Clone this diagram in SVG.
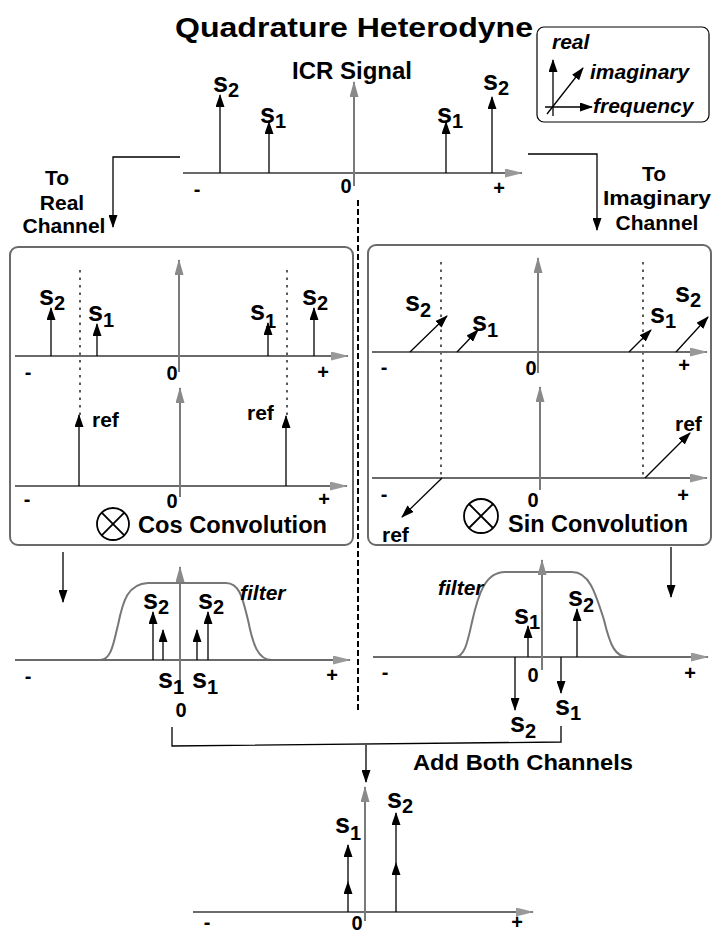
<svg xmlns="http://www.w3.org/2000/svg" width="713" height="934" viewBox="0 0 713 934">
<style>
.t{font-family:"Liberation Sans",Arial,sans-serif;font-weight:bold;fill:#000}
.s{font-size:27px}
.sub{font-size:20px}
.n{font-size:20px;text-anchor:middle}
.lb{font-size:21px}
.it{font-style:italic;font-size:21px}
.ax{stroke:#6a6a6a;stroke-width:1.8;fill:none;marker-end:url(#mAx)}
.c0{stroke:#7a7a7a;stroke-width:2;fill:none;marker-end:url(#mG)}
.sig{stroke:#000;stroke-width:1.3;fill:none;marker-end:url(#mB)}
.dbl{stroke:#000;stroke-width:1.3;fill:none;marker-mid:url(#mB);marker-end:url(#mB)}
.dot{stroke:#333;stroke-width:1.6;stroke-dasharray:2.5 5;fill:none}
.box{fill:none;stroke:#6a6a6a;stroke-width:2}
.flt{fill:none;stroke:#777;stroke-width:2}
.con{fill:none;stroke:#000;stroke-width:1.3}
</style>
<defs>
<marker id="mB" viewBox="0 0 13 9" refX="12" refY="4.5" markerWidth="13" markerHeight="9" orient="auto" markerUnits="userSpaceOnUse"><path d="M0,0 L13,4.5 L0,9 Z" fill="#000"/></marker>
<marker id="mG" viewBox="0 0 16 9" refX="15" refY="4.5" markerWidth="16" markerHeight="9" orient="auto" markerUnits="userSpaceOnUse"><path d="M0,0 L16,4.5 L0,9 Z" fill="#8a8a8a"/></marker>
<marker id="mAx" viewBox="0 0 18 9" refX="17" refY="4.5" markerWidth="18" markerHeight="9" orient="auto" markerUnits="userSpaceOnUse"><path d="M0,0 L18,4.5 L0,9 Z" fill="#999"/></marker>
</defs>
<rect width="713" height="934" fill="#fff"/>

<g id="title">
<text class="t" x="175" y="37" font-size="28" textLength="358" lengthAdjust="spacingAndGlyphs">Quadrature Heterodyne</text>
</g>

<g id="legend">
<rect x="537" y="27" width="172" height="95" rx="7" fill="none" stroke="#000" stroke-width="1.2"/>
<path class="sig" d="M553 116 V60"/>
<path class="sig" d="M547 114 L583 68"/>
<path class="sig" d="M545 107 H592"/>
<text class="t it" x="552" y="49">real</text>
<text class="t it" x="590" y="79">imaginary</text>
<text class="t it" x="593" y="113">frequency</text>
</g>

<g id="icr-signal">
<text class="t" x="292" y="79" font-size="23" textLength="120" lengthAdjust="spacingAndGlyphs">ICR Signal</text>
<path class="ax" d="M183 173 H522"/>
<path class="c0" d="M354 186 V82"/>
<path class="sig" d="M220 173 V95"/>
<path class="sig" d="M269 173 V122"/>
<path class="sig" d="M446 173 V122"/>
<path class="sig" d="M492 173 V97"/>
<text class="t s" x="213" y="92">s<tspan class="sub" dy="5">2</tspan></text>
<text class="t s" x="260" y="123">s<tspan class="sub" dy="5">1</tspan></text>
<text class="t s" x="437" y="123">s<tspan class="sub" dy="5">1</tspan></text>
<text class="t s" x="483" y="90">s<tspan class="sub" dy="5">2</tspan></text>
<text class="t n" x="197" y="196">-</text>
<text class="t n" x="346" y="193">0</text>
<text class="t n" x="499" y="195">+</text>
</g>

<g id="to-real">
<text class="t lb" x="57" y="185" text-anchor="middle">To</text>
<text class="t lb" x="62" y="210" text-anchor="middle">Real</text>
<text class="t lb" x="64" y="233" text-anchor="middle">Channel</text>
</g>

<g id="to-imaginary">
<text class="t lb" x="654" y="181" text-anchor="middle">To</text>
<text class="t lb" x="657" y="205" text-anchor="middle" textLength="108" lengthAdjust="spacingAndGlyphs">Imaginary</text>
<text class="t lb" x="657" y="230" text-anchor="middle">Channel</text>
</g>

<g id="cos-panel">
<rect class="box" x="10" y="247" width="343" height="298" rx="8"/>
<path class="dot" d="M80 270 V415"/>
<path class="dot" d="M287 270 V416"/>
<path class="ax" d="M15 356 H348"/>
<path class="c0" d="M179 372 V260"/>
<path class="sig" d="M51 356 V308"/>
<path class="sig" d="M97 356 V324"/>
<path class="sig" d="M268 356 V323"/>
<path class="sig" d="M314 356 V308"/>
<text class="t s" x="39" y="305">s<tspan class="sub" dy="5">2</tspan></text>
<text class="t s" x="88" y="321">s<tspan class="sub" dy="6">1</tspan></text>
<text class="t s" x="250" y="320">s<tspan class="sub" dy="8">1</tspan></text>
<text class="t s" x="302" y="305">s<tspan class="sub" dy="5">2</tspan></text>
<text class="t n" x="28" y="379">-</text>
<text class="t n" x="172" y="380">0</text>
<text class="t n" x="323" y="379">+</text>
<path class="ax" d="M15 486 H347"/>
<path class="c0" d="M180 497 V388"/>
<path class="sig" d="M79 486 V415"/>
<path class="sig" d="M286 486 V416"/>
<text class="t" x="92" y="427" font-size="21">ref</text>
<text class="t" x="247" y="420" font-size="21">ref</text>
<text class="t n" x="27" y="506">-</text>
<text class="t n" x="172" y="508">0</text>
<text class="t n" x="324" y="506">+</text>
<circle cx="113" cy="524" r="16" fill="none" stroke="#000" stroke-width="1.8"/>
<path d="M101.7 512.7 L124.3 535.3 M124.3 512.7 L101.7 535.3" stroke="#000" stroke-width="1.8"/>
<text class="t" x="138" y="533" font-size="23" textLength="189" lengthAdjust="spacingAndGlyphs">Cos Convolution</text>
</g>

<g id="sin-panel">
<rect class="box" x="368" y="245" width="343" height="300" rx="8"/>
<path class="dot" d="M441 262 V478"/>
<path class="dot" d="M643 262 V477"/>
<path class="ax" d="M372 352 H707"/>
<path class="c0" d="M538 373 V258"/>
<path class="sig" d="M410 352 L447 316"/>
<path class="sig" d="M457 352 L478 330"/>
<path class="sig" d="M629 352 L651 330"/>
<path class="sig" d="M676 352 L708 317"/>
<text class="t s" x="405" y="311">s<tspan class="sub" dy="6">2</tspan></text>
<text class="t s" x="472" y="331">s<tspan class="sub" dy="6">1</tspan></text>
<text class="t s" x="650" y="323">s<tspan class="sub" dy="5">1</tspan></text>
<text class="t s" x="675" y="302">s<tspan class="sub" dy="5">2</tspan></text>
<text class="t n" x="384" y="374">-</text>
<text class="t n" x="531" y="375">0</text>
<text class="t n" x="684" y="372">+</text>
<path class="ax" d="M372 478 H707"/>
<path class="c0" d="M540 490 V387"/>
<path class="sig" d="M645 478 L690 433"/>
<path class="sig" d="M442 478 L402 517"/>
<text class="t" x="675" y="431" font-size="21">ref</text>
<text class="t" x="382" y="542" font-size="21">ref</text>
<text class="t n" x="384" y="501">-</text>
<text class="t n" x="533" y="507">0</text>
<text class="t n" x="683" y="502">+</text>
<circle cx="481" cy="516" r="17" fill="none" stroke="#000" stroke-width="1.8"/>
<path d="M469 504 L493 528 M493 504 L469 528" stroke="#000" stroke-width="1.8"/>
<text class="t" x="508" y="532" font-size="23" textLength="180" lengthAdjust="spacingAndGlyphs">Sin Convolution</text>
</g>

<g id="real-filter">
<path class="flt" d="M100 660 C112 660,114 640,118 625 C123 600,128 584,148 583 L226 583 C240 583,243 600,248 620 C253 645,258 660,272 660"/>
<path class="ax" d="M15 660 H350"/>
<path class="c0" d="M180 693 V567"/>
<path class="sig" d="M153 660 V612"/>
<path class="sig" d="M163 660 V630"/>
<path class="sig" d="M197 660 V630"/>
<path class="sig" d="M208 660 V612"/>
<text class="t s" x="143" y="609">s<tspan class="sub" dy="5">2</tspan></text>
<text class="t s" x="198" y="609">s<tspan class="sub" dy="5">2</tspan></text>
<text class="t it" x="240" y="600" font-size="23">filter</text>
<text class="t s" x="158" y="688">s<tspan class="sub" dy="6">1</tspan></text>
<text class="t s" x="192" y="688">s<tspan class="sub" dy="6">1</tspan></text>
<text class="t n" x="28" y="683">-</text>
<text class="t n" x="181" y="717">0</text>
<text class="t n" x="332" y="682">+</text>
</g>

<g id="imag-filter">
<path class="flt" d="M455 657 C465 657,468 640,472 622 C478 595,485 572,505 572 L572 572 C590 572,596 595,604 620 C610 645,615 657,628 657"/>
<path class="ax" d="M373 657 H708"/>
<path class="c0" d="M542 670 V560"/>
<path class="sig" d="M528 657 V626"/>
<path class="sig" d="M577 657 V609"/>
<path class="sig" d="M515 657 V710"/>
<path class="sig" d="M561 657 V693"/>
<text class="t it" x="438" y="595" font-size="23">filter</text>
<text class="t s" x="514" y="624">s<tspan class="sub" dy="5">1</tspan></text>
<text class="t s" x="568" y="606">s<tspan class="sub" dy="6">2</tspan></text>
<text class="t s" x="510" y="732">s<tspan class="sub" dy="6">2</tspan></text>
<text class="t s" x="555" y="715">s<tspan class="sub" dy="5">1</tspan></text>
<text class="t n" x="385" y="679">-</text>
<text class="t n" x="533" y="682">0</text>
<text class="t n" x="690" y="680">+</text>
</g>

<g id="sum-output">
<text class="t" x="413" y="770" font-size="22" textLength="220" lengthAdjust="spacingAndGlyphs">Add Both Channels</text>
<path class="ax" d="M193 912 H533"/>
<path class="c0" d="M365 921 V787"/>
<path class="dbl" d="M348 912 L348 882 L348 845"/>
<path class="dbl" d="M396 912 L396 863 L396 813"/>
<text class="t s" x="335" y="833">s<tspan class="sub" dy="7">1</tspan></text>
<text class="t s" x="387" y="808">s<tspan class="sub" dy="5">2</tspan></text>
<text class="t n" x="207" y="929">-</text>
<text class="t n" x="357" y="930">0</text>
<text class="t n" x="517" y="929">+</text>
</g>

<g id="connectors">
<path d="M358 200 V712" stroke="#000" stroke-width="2" stroke-dasharray="6 3" fill="none"/>
<path class="sig" d="M180 157 H113 V227"/>
<path class="sig" d="M528 154 H597 V230"/>
<path class="sig" d="M63 552 V602"/>
<path class="sig" d="M671 547 V597"/>
<path class="con" d="M172 727 V746 L561 742 V726"/>
<path class="sig" d="M366 745 V782"/>
</g>
</svg>
